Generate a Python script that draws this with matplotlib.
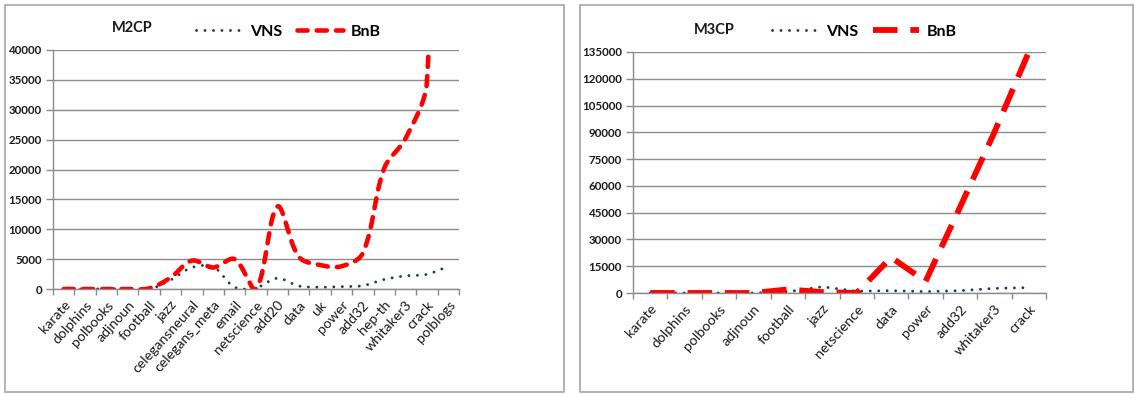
import numpy as np
import matplotlib
matplotlib.use("Agg")
import matplotlib.pyplot as plt
from matplotlib.patches import Rectangle

plt.rcParams['font.family'] = ['Lato', 'DejaVu Sans']

# ---------------- data ----------------
m2_categories = ["karate", "dolphins", "polbooks", "adjnoun", "football", "jazz",
                 "celegansneural", "celegans_meta", "email", "netscience", "add20",
                 "data", "uk", "power", "add32", "hep-th", "whitaker3", "crack", "polblogs"]
m2_vns = [0, 0, 0, 100, 0, 1500, 3600, 3700, 300, 200, 1800, 500, 300, 400, 550,
          1600, 2200, 2450, 3850]
m2_bnb = [0, 0, 0, 0, 100, 1900, 4750, 3600, 5000, 0, 13800, 5400, 4000, 3800, 6000,
          20200, 25200, 34700, 150000]
m2_yticks = [0, 5000, 10000, 15000, 20000, 25000, 30000, 35000, 40000]

m3_categories = ["karate", "dolphins", "polbooks", "adjnoun", "football", "jazz",
                 "netscience", "data", "power", "add32", "whitaker3", "crack"]
m3_vns = [0, 0, 0, 0, 700, 3500, 1000, 1300, 800, 1300, 2600, 3000]
m3_bnb = [0, 0, 0, 0, 2000, 500, 0, 20000, 6500, 48000, 90000, 135000]
m3_yticks = [0, 15000, 30000, 45000, 60000, 75000, 90000, 105000, 120000, 135000]

VNS_COLOR = "#1F3A60"
BNB_COLOR = "#FF0000"
GRID = "#8C8C8C"
TXT = "#1A1A1A"

W, H = 1135, 394
fig = plt.figure(figsize=(W / 100, H / 100), dpi=100)


def fx(px):
    return px / W


def fy(py):
    return 1 - py / H


def smooth(xs, ys, sx, sy, n=30):
    """Excel-like smoothed curve drawn through the data points (display helper)."""
    P = np.column_stack([np.asarray(xs, float) * sx, np.asarray(ys, float) * sy])
    out = [P[0]]
    m = len(P)
    c_after = np.zeros_like(P)
    c_before = np.zeros_like(P)
    for i in range(m):
        if i == 0 or i == m - 1:
            c_after[i] = P[i]
            c_before[i] = P[i]
            continue
        d = P[i + 1] - P[i - 1]
        la = np.linalg.norm(P[i] - P[i - 1])
        lb = np.linalg.norm(P[i + 1] - P[i])
        s = la + lb if la + lb > 0 else 1
        c_before[i] = P[i] - d * (la / s) / 3
        c_after[i] = P[i] + d * (lb / s) / 3
    t = np.linspace(0, 1, n)[1:, None]
    for i in range(m - 1):
        p0, p1, p2, p3 = P[i], c_after[i], c_before[i + 1], P[i + 1]
        seg = ((1 - t) ** 3) * p0 + 3 * ((1 - t) ** 2) * t * p1 + 3 * (1 - t) * t ** 2 * p2 + t ** 3 * p3
        out.extend(seg)
    out = np.array(out)
    return out[:, 0] / sx, out[:, 1] / sy


def panel(rect_px, ax_px, cats, vns, bnb, yticks, ymax, title, title_px,
          legend_px, smooth_lines, bnb_dash, bnb_lw, bnb_cap):
    # outer frame
    x0, y0, x1, y1 = rect_px
    fig.patches.append(Rectangle((fx(x0), fy(y1)), fx(x1 - x0), (y1 - y0) / H,
                                 transform=fig.transFigure, fill=False,
                                 edgecolor="#A6A6A6", linewidth=1.2))
    ax_l, ax_t, ax_r, ax_b = ax_px
    ax = fig.add_axes([fx(ax_l), fy(ax_b), fx(ax_r - ax_l), (ax_b - ax_t) / H])
    n = len(cats)
    xs = np.arange(n)
    ax.set_xlim(-0.5, n - 0.5)
    ax.set_ylim(0, ymax)
    ax.set_yticks(yticks)
    ax.set_yticklabels([str(v) for v in yticks], fontsize=8.3, color=TXT,
                       fontweight="bold")
    ax.set_xticks(xs)
    ax.set_xticklabels(cats, rotation=48, ha="right", rotation_mode="anchor",
                       fontsize=10.2, color=TXT)
    ax.set_xticks(np.arange(n + 1) - 0.5, minor=True)
    ax.tick_params(axis="x", which="major", length=0, pad=7)
    ax.tick_params(axis="x", which="minor", length=4, color=GRID, width=1)
    ax.tick_params(axis="y", length=5, color=GRID, width=1, pad=3)
    ax.grid(axis="y", color=GRID, linewidth=1)
    ax.set_axisbelow(True)
    for s in ["top", "right"]:
        ax.spines[s].set_visible(False)
    for s in ["left", "bottom"]:
        ax.spines[s].set_color(GRID)
        ax.spines[s].set_linewidth(1)
    ax.patch.set_visible(False)

    sx = (ax_r - ax_l) / n
    sy = (ax_b - ax_t) / ymax
    if smooth_lines:
        vx, vy = smooth(xs, vns, sx, sy)
        bx, by = smooth(xs, bnb, sx, sy)
    else:
        vx, vy = xs, vns
        bx, by = xs, bnb
    lv, = ax.plot(vx, vy, color=VNS_COLOR, linewidth=2.1,
                  linestyle=(0, (0.01, 2.9)), dash_capstyle="round", label="VNS")
    lb, = ax.plot(bx, by, color=BNB_COLOR, linewidth=bnb_lw,
                  linestyle=(0, bnb_dash), dash_capstyle=bnb_cap, label="BnB")

    fig.text(fx(title_px[0]), fy(title_px[1]), title, ha="center", va="center",
             fontsize=10.5, fontweight="bold", color=TXT)
    fig.legend(handles=[lv, lb], loc="center left",
               bbox_to_anchor=(fx(legend_px[0]), fy(legend_px[1])),
               ncol=2, frameon=False, prop={"weight": "bold", "size": 11.5},
               handlelength=2.9, handletextpad=0.5, columnspacing=0.9,
               borderpad=0, borderaxespad=0)
    return ax


panel((5, 5, 564, 392), (53, 50, 459, 289), m2_categories, m2_vns, m2_bnb,
      m2_yticks, 40000, "M2CP", (132, 28), (196, 32), True,
      (2.2, 2.0), 3.3, "round")
panel((580, 5, 1133, 392), (633, 52, 1046, 293), m3_categories, m3_vns, m3_bnb,
      m3_yticks, 135000, "M3CP", (714, 30), (772, 32), False,
      (4.2, 2.2), 4.2, "butt")

fig.savefig("out.png", dpi=100)
